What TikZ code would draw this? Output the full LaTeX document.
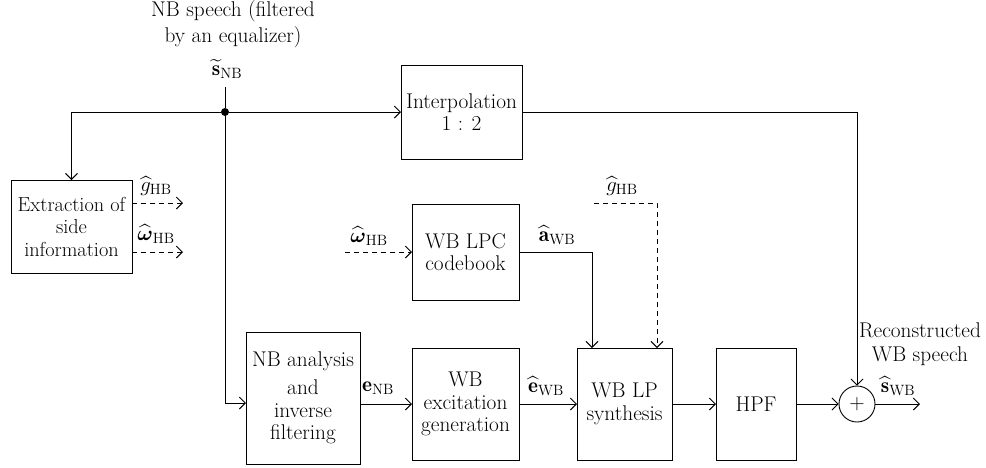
\documentclass[tikz,border=0pt]{standalone}
\usepackage{amsmath}
\usepackage{fontspec}
\usetikzlibrary{arrows.meta,calc}
\tikzset{
  blk/.style={draw, line width=0.9pt, inner sep=0pt, outer sep=0pt, align=center},
  lbl/.style={inner sep=0pt, align=center},
  conn/.style={line width=0.9pt, -{Straight Barb[length=6pt,width=12pt,line width=0.9pt]}},
  plain/.style={line width=0.9pt},
  dconn/.style={conn, dash pattern=on 5pt off 4pt},
}
\begin{document}
\begin{tikzpicture}[x=1pt, y=-1pt, font=\fontsize{21.3}{22.5}\selectfont]
\useasboundingbox (0,0) rectangle (986,467);

% blocks
\node[blk, minimum width=121pt, minimum height=94pt] (interp) at (461.5,112) {Interpolation\\1 : 2};
\node[blk, minimum width=121pt, minimum height=93pt, font=\fontsize{20.3}{22.5}\selectfont] (extr) at (71.5,226.5) {Extraction of\\side\\information};
\node[blk, minimum width=107pt, minimum height=96pt] (code) at (465.5,252) {WB LPC\\codebook};
\node[blk, minimum width=114pt, minimum height=132pt] (nba) at (303,398) {NB analysis\\[6pt]and\\inverse\\filtering};
\node[blk, minimum width=107pt, minimum height=112pt] (exc) at (465.5,404) {WB\\excitation\\generation};
\node[blk, minimum width=95pt, minimum height=112pt] (syn) at (624.5,404) {WB LP\\synthesis};
\node[blk, minimum width=80pt, minimum height=112pt] (hpf) at (756,404) {HPF};
\node[draw, circle, line width=0.9pt, minimum size=36pt, inner sep=0pt] (sum) at (857,404) {+};
\node[circle, fill, inner sep=0pt, minimum size=8pt] (dot) at (225,112) {};

% coordinates for free ends
\coordinate (top) at (225,87);
\coordinate (g1) at (183,203);
\coordinate (w1) at (183,252);
\coordinate (w2) at (345,252);
\coordinate (g2) at (594,203);
\coordinate (out) at (920,404);

% labels
\node[lbl, font=\fontsize{21.3}{26}\selectfont] (title) at (233,24) {NB speech (filtered\\by an equalizer)};
\node[lbl] (sNB) at (227,69) {$\widetilde{\mathbf{s}}_{\mathrm{NB}}$};
\node[lbl] (gL) at (156,186) {$\widehat{g}_{\mathrm{HB}}$};
\node[lbl] (wL) at (156,234) {$\widehat{\boldsymbol{\omega}}_{\mathrm{HB}}$};
\node[lbl] (wC) at (369,236) {$\widehat{\boldsymbol{\omega}}_{\mathrm{HB}}$};
\node[lbl] (aWB) at (557,235) {$\widehat{\mathbf{a}}_{\mathrm{WB}}$};
\node[lbl] (gT) at (622,186) {$\widehat{g}_{\mathrm{HB}}$};
\node[lbl] (eNB) at (378,388) {$\mathbf{e}_{\mathrm{NB}}$};
\node[lbl] (eWB) at (546,386) {$\widehat{\mathbf{e}}_{\mathrm{WB}}$};
\node[lbl] (sWB) at (898,386) {$\widehat{\mathbf{s}}_{\mathrm{WB}}$};
\node[lbl, font=\fontsize{21.3}{24}\selectfont] (recon) at (920,344) {Reconstructed\\WB speech};

% connectors
\draw[plain] (top) -- (dot);
\draw[conn] (dot) -- (interp.west);
\draw[conn] (dot) -| (extr.north);
\draw[conn] (dot) |- ([yshift=-5pt]nba.west);
\draw[conn] (nba.east |- exc.west) -- (exc.west);
\draw[conn] (exc.east) -- (syn.west);
\draw[conn] (syn.east) -- (hpf.west);
\draw[conn] (hpf.east) -- (sum.west);
\draw[conn] (sum.east) -- (out);
\draw[conn] (interp.east) -| (sum.north);
\draw[conn] (code.east) -| ([xshift=-32.5pt]syn.north);
\draw[dconn] (g2) -| ([xshift=32.5pt]syn.north);
\draw[dconn] (w2) -- (code.west);
\draw[dconn] (extr.east |- g1) -- (g1);
\draw[dconn] (extr.east |- w1) -- (w1);
\end{tikzpicture}
\end{document}
